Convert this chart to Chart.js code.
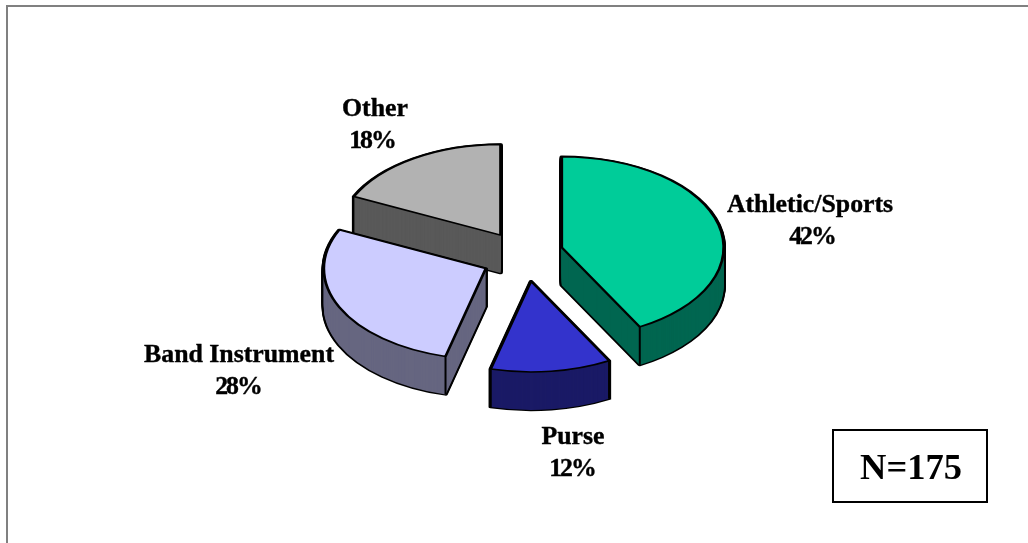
<!DOCTYPE html>
<html>
<head>
<meta charset="utf-8">
<title>Pie</title>
<script src="https://cdn.jsdelivr.net/npm/chart.js@4"></script>
<style>
  html, body { margin: 0; padding: 0; background: #fff; overflow: hidden; }
  canvas { display: block; }
</style>
</head>
<body>
<canvas id="pie" width="1028" height="543"></canvas>
<script>
const categories = ["Athletic/Sports", "Purse", "Band Instrument", "Other"];
const shares = [42, 12, 28, 18];
const topColors = ["#00CC99", "#3333CC", "#CCCCFF", "#B2B2B2"];
const sideColors = ["#006650", "#1A1A66", "#666680", "#595959"];
const noteText = "N=175";

// look of the fake 3D pie
const SQUASH = 0.56;
const DEPTH = 38;
const EXPLODE = 40;
const CENTER_Y = 256;
const drawOrder = [3, 0, 2, 1];
// small per slice shift, the original has some perspective
const nudges = [[1, -3], [4, 3], [0, 3], [0, -2]];

// label centres, one per category: [name x, name baseline, percent x, percent baseline]
const labelSpots = [
  [810, 212, 812, 244],
  [573, 444, 572, 476],
  [239, 362, 238, 394],
  [375, 116, 372, 148]
];

function flatOptions(fill, line, width) {
  return {
    backgroundColor: fill, borderColor: line, borderWidth: width,
    borderAlign: "center", borderJoinStyle: "round", borderRadius: 0,
    borderDash: [], borderDashOffset: 0, offset: 0, spacing: 0, circular: true
  };
}

// draw the library's arc element with other colours
function paintArc(ctx, arc, fill, line, width) {
  const copy = Object.create(arc);
  copy.options = flatOptions(fill, line, width);
  arc.draw.call(copy, ctx);
}

const pie3d = {
  id: "pie3d",
  beforeDraw(chart) {
    const ctx = chart.ctx;
    ctx.save();
    // outer frame, runs off the right and bottom of the picture
    ctx.fillStyle = "#808080";
    ctx.fillRect(6, 5, 1022, 2);
    ctx.fillRect(6, 5, 2, 538);
    ctx.restore();
  },
  beforeDatasetDraw() {
    return false; // the slices are painted in afterDatasetsDraw
  },
  afterDatasetsDraw(chart) {
    const ctx = chart.ctx;
    const arcs = chart.getDatasetMeta(0).data;
    drawOrder.forEach((i) => drawSlice(ctx, arcs[i], i));
    drawLabels(ctx);
    drawNote(ctx);
  }
};

function drawSlice(ctx, arc, i) {
  const mid = (arc.startAngle + arc.endAngle) / 2;
  const dx = Math.cos(mid) * EXPLODE + nudges[i][0];
  const dy = Math.sin(mid) * EXPLODE * SQUASH + nudges[i][1];
  const ty = CENTER_Y - SQUASH * arc.y;
  const place = (d) => ctx.setTransform(1, 0, 0, SQUASH, dx, ty + dy + d);

  ctx.save();
  // wall: black silhouette first, then the colour on top of it
  for (let d = DEPTH; d >= 0; d--) {
    place(d);
    paintArc(ctx, arc, sideColors[i], "#000", 4.4);
  }
  for (let d = DEPTH; d >= 0; d--) {
    place(d);
    paintArc(ctx, arc, sideColors[i], sideColors[i], 0);
  }
  // vertical edge on the corners that face the viewer
  ctx.setTransform(1, 0, 0, 1, 0, 0);
  ctx.strokeStyle = "#000";
  ctx.lineWidth = 2;
  [arc.startAngle, arc.endAngle].forEach((a) => {
    if (Math.sin(a) <= 0) return;
    const x = arc.x + dx + Math.cos(a) * arc.outerRadius;
    const y = SQUASH * (arc.y + Math.sin(a) * arc.outerRadius) + ty + dy;
    ctx.beginPath();
    ctx.moveTo(x, y);
    ctx.lineTo(x, y + DEPTH);
    ctx.stroke();
  });
  // top face
  place(0);
  paintArc(ctx, arc, topColors[i], "#000", 2.8);
  ctx.restore();
}

function boldText(ctx, text, x, y) {
  ctx.fillText(text, x, y);
  ctx.strokeText(text, x, y);
}

function drawLabels(ctx) {
  ctx.save();
  ctx.fillStyle = "#000";
  ctx.strokeStyle = "#000";
  ctx.lineWidth = 0.4;
  ctx.textAlign = "center";
  ctx.textBaseline = "alphabetic";
  ctx.font = "bold 25.8px 'Liberation Serif'";
  categories.forEach((name, i) => {
    const [x, y1, px, y2] = labelSpots[i];
    ctx.letterSpacing = "0px";
    boldText(ctx, name, x, y1);
    ctx.letterSpacing = "-2px"; // percents sit tighter in the original
    boldText(ctx, shares[i] + "%", px, y2);
  });
  ctx.restore();
}

function drawNote(ctx) {
  ctx.save();
  ctx.strokeStyle = "#000";
  ctx.lineWidth = 2;
  ctx.strokeRect(833, 430, 154, 72);
  ctx.fillStyle = "#000";
  ctx.textAlign = "center";
  ctx.font = "bold 36.5px 'Liberation Serif'";
  ctx.fillText(noteText, 911, 479);
  ctx.restore();
}

new Chart(document.getElementById("pie"), {
  type: "pie",
  data: {
    labels: categories,
    datasets: [{ data: shares, backgroundColor: topColors, borderWidth: 0 }]
  },
  options: {
    responsive: false,
    animation: false,
    radius: 162,
    layout: { padding: { left: 16 } },
    plugins: { legend: { display: false }, tooltip: { enabled: false } }
  },
  plugins: [pie3d]
});
</script>
</body>
</html>
